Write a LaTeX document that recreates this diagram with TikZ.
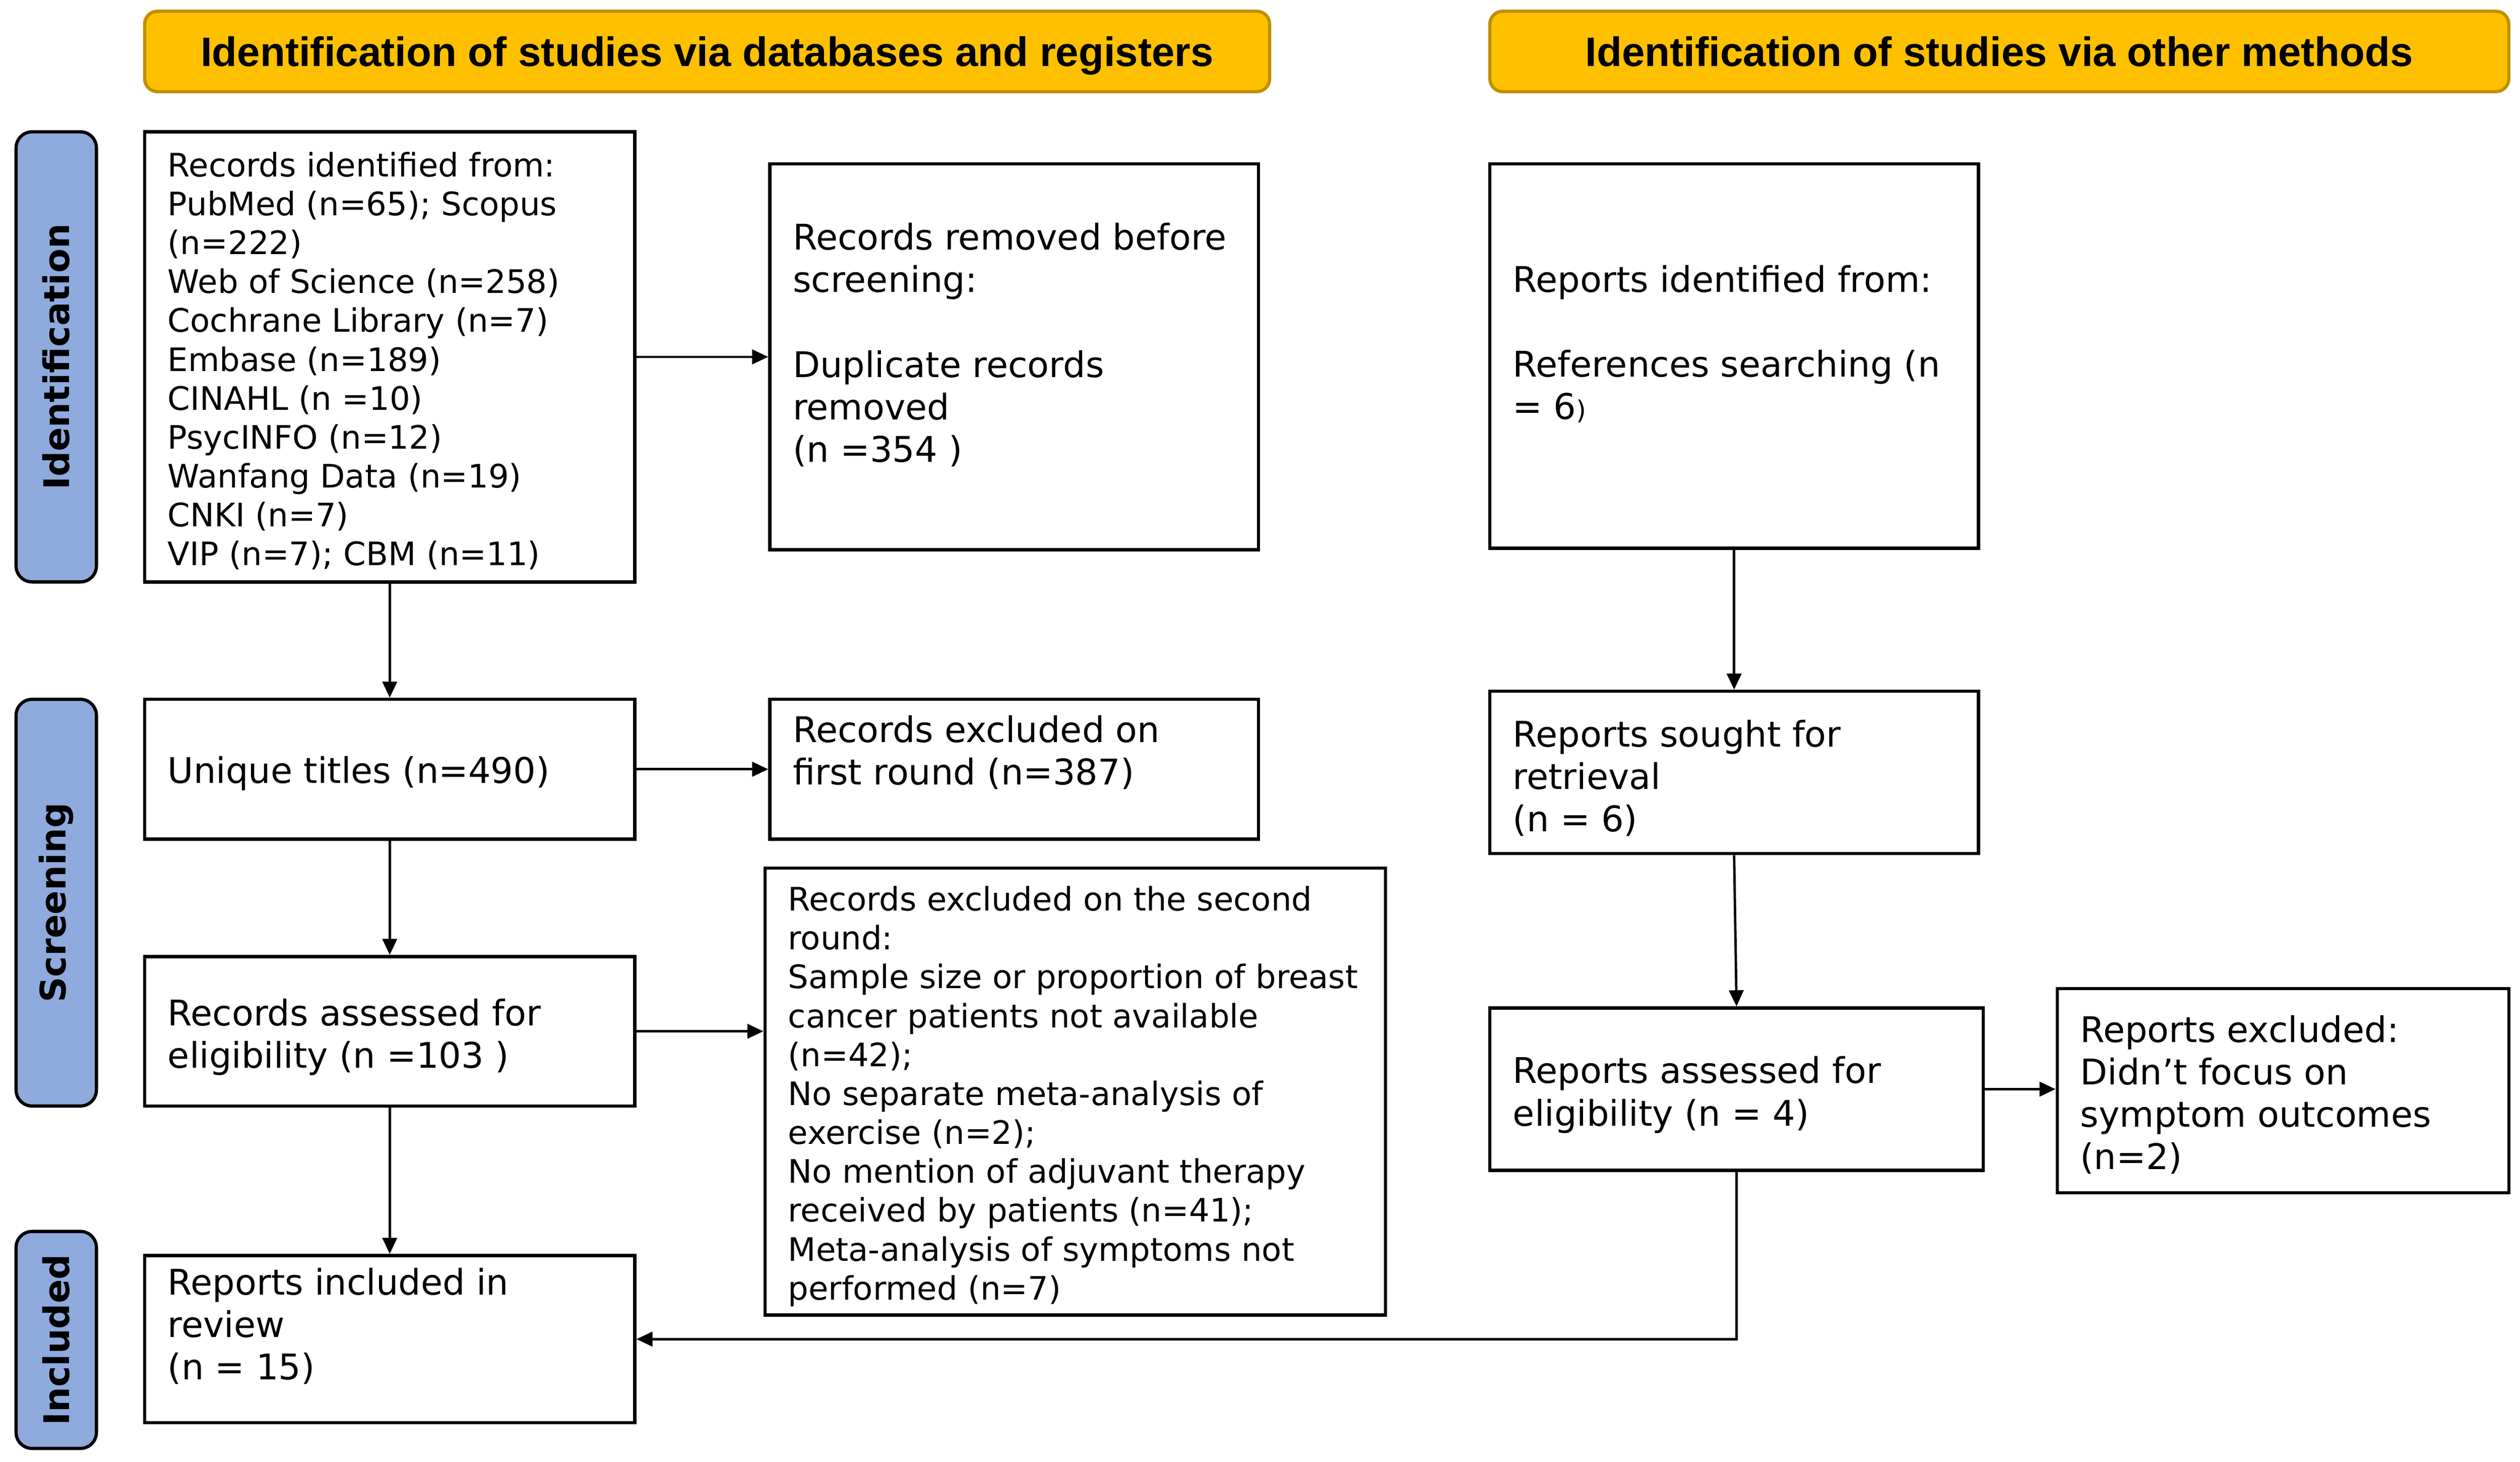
\documentclass[tikz,border=0pt]{standalone}
\usepackage{fontspec}
\setmainfont{DejaVu Sans}
\newfontfamily\hdrfont{Liberation Sans}
\usetikzlibrary{fit,arrows.meta}
\definecolor{hdrfill}{HTML}{FFC000}
\definecolor{hdrdraw}{HTML}{BF9000}
\definecolor{sidefill}{HTML}{8FAADC}
\tikzset{
  box/.style={draw, line width=1pt, inner sep=0pt},
  txt/.style={anchor=west, align=left, inner sep=0pt, font=\fontsize{11}{13.2}\selectfont},
  txts/.style={txt, font=\fontsize{10.05}{12.1}\selectfont},
  hdr/.style={draw=hdrdraw, fill=hdrfill, line width=1pt, rounded corners=4pt, inner sep=0pt},
  hdrtxt/.style={inner sep=0pt, anchor=base, yshift=-4.6pt, font=\hdrfont\bfseries\fontsize{12.8}{15}\selectfont},
  side/.style={draw=black, fill=sidefill, line width=1pt, rounded corners=5pt, inner sep=0pt},
  sidetxt/.style={rotate=90, inner sep=0pt, font=\bfseries\fontsize{11}{13}\selectfont},
  arr/.style={line width=0.75pt, -{Triangle[length=5pt,width=4.5pt]}}
}
\begin{document}
\begin{tikzpicture}[x=0.5pt,y=-0.5pt]
\useasboundingbox (0,0) rectangle (1568,909.4);
% headers
\node[hdr, fit={(90,7) (790,57)}] (h1) {};
\node[hdrtxt] (h1t) at (h1.center) {Identification of studies via databases and registers};
\node[hdr, fit={(927,7) (1561,57)}] (h2) {};
\node[hdrtxt] (h2t) at (h2.center) {Identification of studies via other methods};
% side labels
\node[side, fit={(10,82) (60,362)}] (s1) {};
\node[sidetxt] (s1t) at (s1.center) {Identification};
\node[side, fit={(10,435) (60,688)}] (s2) {};
\node[sidetxt] (s2t) at (s2.center) {Screening};
\node[side, fit={(10,766) (60,901)}] (s3) {};
\node[sidetxt] (s3t) at (s3.center) {Included};
% boxes
\node[box, fit={(90,82) (395,362)}] (recid) {};
\node[txts] (recidt) at (104,224.5) {Records identified from:\\PubMed (n=65); Scopus\\(n=222)\\Web of Science (n=258)\\Cochrane Library (n=7)\\Embase (n=189)\\CINAHL (n =10)\\PsycINFO (n=12)\\Wanfang Data (n=19)\\CNKI (n=7)\\VIP (n=7); CBM (n=11)};
\node[box, fit={(479,102) (783,342)}] (removed) {};
\node[txt] (removedt) at (493,214.5) {Records removed before\\screening:\\[13.2pt]Duplicate records\\removed\\(n =354 )};
\node[box, fit={(90,435) (395,522)}] (unique) {};
\node[txt] (uniquet) at (104,481) {Unique titles (n=490)};
\node[box, fit={(479,435) (783,522)}] (excl1) {};
\node[txt] (excl1t) at (493,468) {Records excluded on\\first round (n=387)};
\node[box, fit={(90,595) (395,688)}] (assessed) {};
\node[txt] (assessedt) at (104,645) {Records assessed for\\eligibility (n =103 )};
\node[box, fit={(476,540) (862,818)}] (excl2) {};
\node[txts] (excl2t) at (490,682) {Records excluded on the second\\round:\\Sample size or proportion of breast\\cancer patients not available\\(n=42);\\No separate meta-analysis of\\exercise (n=2);\\No mention of adjuvant therapy\\received by patients (n=41);\\Meta-analysis of symptoms not\\performed (n=7)};
\node[box, fit={(90,781) (395,885)}] (included) {};
\node[txt] (includedt) at (104,825) {Reports included in\\review\\(n = 15)};
\node[box, fit={(927,102) (1231,341)}] (repid) {};
\node[txt] (repidt) at (941,214) {Reports identified from:\\[13.2pt]References searching (n\\= 6{\fontsize{8}{10}\selectfont)}};
\node[box, fit={(927,430) (1231,531)}] (sought) {};
\node[txt] (soughtt) at (941,484) {Reports sought for\\retrieval\\(n = 6)};
\node[box, fit={(927,627) (1234,728)}] (rassessed) {};
\node[txt] (rassessedt) at (941,681) {Reports assessed for\\eligibility (n = 4)};
\node[box, fit={(1280,615) (1561,742)}] (rexcl) {};
\node[txt] (rexclt) at (1294,681) {Reports excluded:\\Didn’t focus on\\symptom outcomes\\(n=2)};
% connectors
\draw[arr] (recid.south) -- (unique.north);
\draw[arr] (recid.east) -- (removed.west);
\draw[arr] (unique.east) -- (excl1.west);
\draw[arr] (unique.south) -- (assessed.north);
\draw[arr] (assessed.east) -- (assessed.east -| excl2.west);
\draw[arr] (assessed.south) -- (included.north);
\draw[arr] (repid.south) -- (sought.north);
\draw[arr] (sought.south) -- (rassessed.north);
\draw[arr] (rassessed.east) -- (rassessed.east -| rexcl.west);
\draw[arr] (rassessed.south) |- (included.east);
\end{tikzpicture}
\end{document}
